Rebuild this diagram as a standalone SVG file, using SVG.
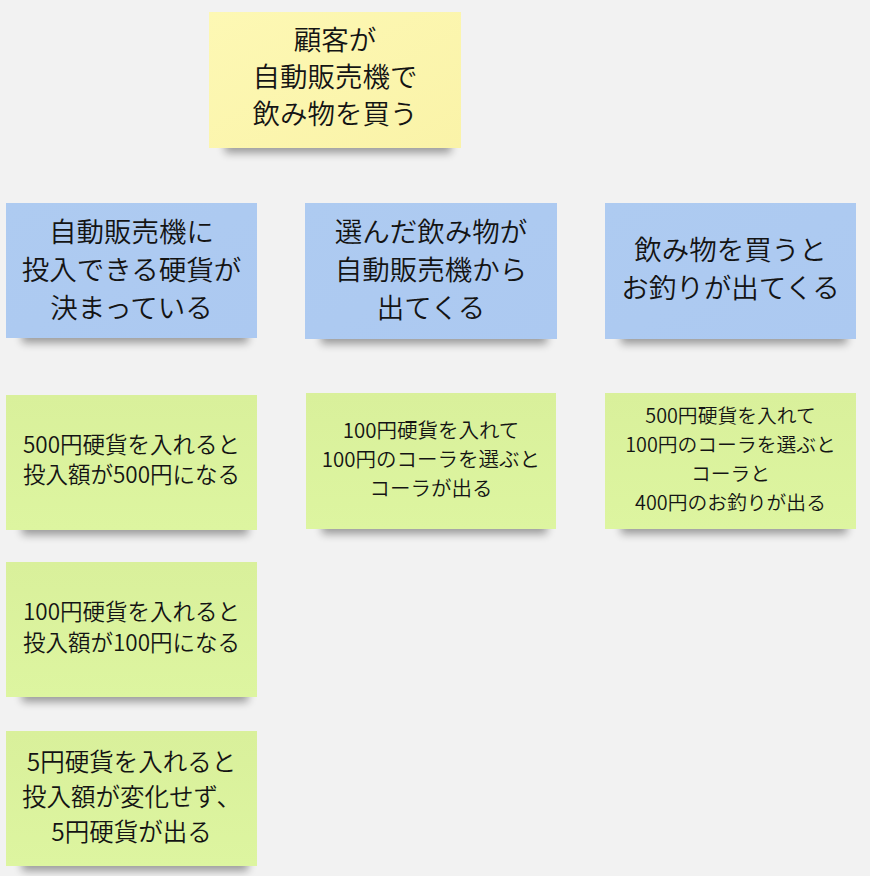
<svg xmlns="http://www.w3.org/2000/svg" width="870" height="876" viewBox="0 0 870 876">
<defs>
<filter id="sh" x="-20%" y="-50%" width="140%" height="200%">
<feGaussianBlur stdDeviation="4.5"/>
</filter>
<linearGradient id="gy" x1="0" y1="0" x2="1" y2="1">
<stop offset="0" stop-color="#fdf8b4"/><stop offset="1" stop-color="#faf3a8"/>
</linearGradient>
<linearGradient id="gb" x1="0" y1="0" x2="1" y2="1">
<stop offset="0" stop-color="#aecbf1"/><stop offset="1" stop-color="#acc9f1"/>
</linearGradient>
<linearGradient id="gg" x1="0" y1="0" x2="0" y2="1">
<stop offset="0" stop-color="#d9f09b"/><stop offset="1" stop-color="#ddf5a0"/>
</linearGradient>
<style>
.t{font-family:"Noto Sans CJK JP","Noto Sans",sans-serif;font-weight:350;fill:#141414;text-anchor:middle}
.big{font-size:27.5px}
.shadow{fill:#000;opacity:0.36}
.y{fill:url(#gy)}
.b{fill:url(#gb)}
.g{fill:url(#gg)}
</style>
</defs>
<rect width="870" height="876" fill="#f2f2f2"/>

<g id="goal">
<rect class="shadow" x="225" y="136" width="226" height="17" filter="url(#sh)"/>
<rect class="y" x="209" y="12" width="252" height="136"/>
<text class="t big" x="335" y="50">顧客が</text>
<text class="t big" x="335" y="87">自動販売機で</text>
<text class="t big" x="335" y="124">飲み物を買う</text>
</g>

<g id="rule1">
<rect class="shadow" x="22" y="326" width="226" height="17" filter="url(#sh)"/>
<rect class="b" x="6" y="203" width="251" height="135"/>
<text class="t big" x="131.5" y="242">自動販売機に</text>
<text class="t big" x="131.5" y="280">投入できる硬貨が</text>
<text class="t big" x="131.5" y="318">決まっている</text>
</g>

<g id="rule2">
<rect class="shadow" x="321" y="327" width="226" height="17" filter="url(#sh)"/>
<rect class="b" x="305" y="203" width="252" height="136"/>
<text class="t big" x="431" y="242">選んだ飲み物が</text>
<text class="t big" x="431" y="280">自動販売機から</text>
<text class="t big" x="431" y="318">出てくる</text>
</g>

<g id="rule3">
<rect class="shadow" x="621" y="327" width="226" height="17" filter="url(#sh)"/>
<rect class="b" x="605" y="203" width="251" height="136"/>
<text class="t big" x="730.5" y="260">飲み物を買うと</text>
<text class="t big" x="730.5" y="298">お釣りが出てくる</text>
</g>

<g id="ex1">
<rect class="shadow" x="22" y="518" width="226" height="17" filter="url(#sh)"/>
<rect class="g" x="6" y="395" width="251" height="135"/>
<text class="t" font-size="22.5" x="131.5" y="453">500円硬貨を入れると</text>
<text class="t" font-size="22.5" x="131.5" y="483">投入額が500円になる</text>
</g>

<g id="ex2">
<rect class="shadow" x="322" y="517" width="225" height="17" filter="url(#sh)"/>
<rect class="g" x="306" y="393" width="250" height="136"/>
<text class="t" font-size="20.5" x="431" y="438">100円硬貨を入れて</text>
<text class="t" font-size="20.5" x="431" y="467">100円のコーラを選ぶと</text>
<text class="t" font-size="20.5" x="431" y="496">コーラが出る</text>
</g>

<g id="ex3">
<rect class="shadow" x="621" y="517" width="226" height="17" filter="url(#sh)"/>
<rect class="g" x="605" y="393" width="251" height="136"/>
<text class="t" font-size="19.8" x="730.5" y="423">500円硬貨を入れて</text>
<text class="t" font-size="19.8" x="730.5" y="452">100円のコーラを選ぶと</text>
<text class="t" font-size="19.8" x="730.5" y="481">コーラと</text>
<text class="t" font-size="19.8" x="730.5" y="510">400円のお釣りが出る</text>
</g>

<g id="ex4">
<rect class="shadow" x="22" y="685" width="226" height="17" filter="url(#sh)"/>
<rect class="g" x="6" y="562" width="251" height="135"/>
<text class="t" font-size="22.5" x="131.5" y="620">100円硬貨を入れると</text>
<text class="t" font-size="22.5" x="131.5" y="651">投入額が100円になる</text>
</g>

<g id="ex5">
<rect class="shadow" x="22" y="854" width="226" height="17" filter="url(#sh)"/>
<rect class="g" x="6" y="731" width="251" height="135"/>
<text class="t" font-size="24.5" x="131.5" y="771">5円硬貨を入れると</text>
<text class="t" font-size="24.5" x="131.5" y="806">投入額が変化せず、</text>
<text class="t" font-size="24.5" x="131.5" y="841">5円硬貨が出る</text>
</g>

<g id="connectors"></g>
</svg>
